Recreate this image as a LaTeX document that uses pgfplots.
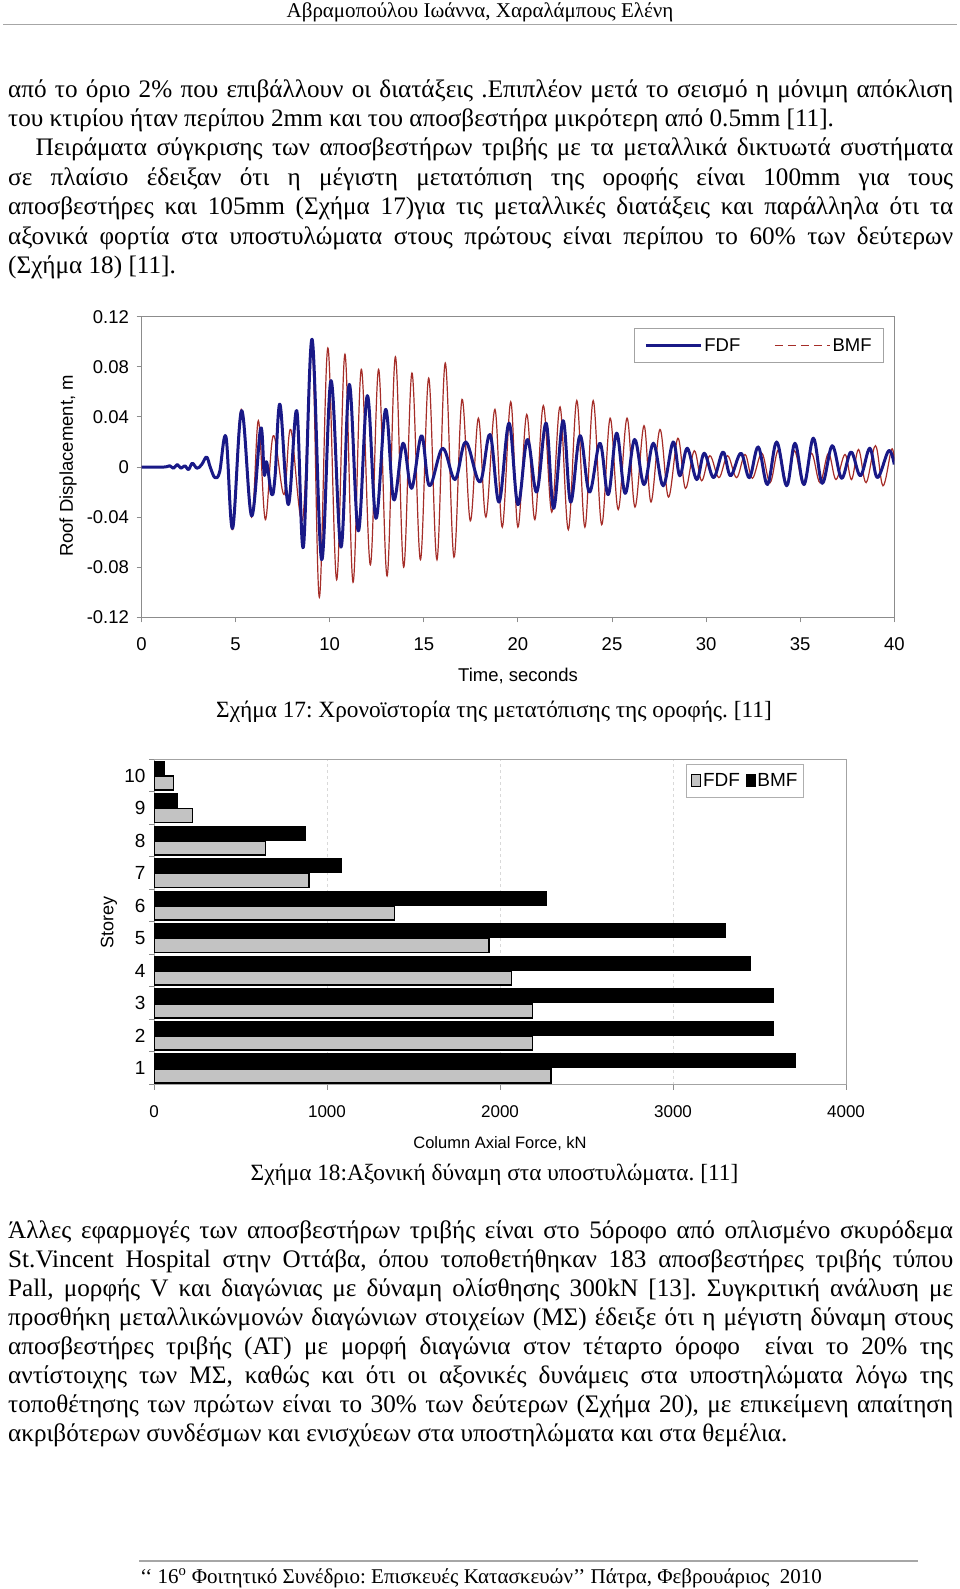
\documentclass[border=0pt]{standalone}
\usepackage{fontspec}
\setmainfont{Liberation Serif}
\newfontfamily\chartfont{Liberation Sans}
\usepackage{pgfplots}
\usepackage{pgfplotstable}
\pgfplotsset{compat=1.18}
\frenchspacing

\definecolor{fdfblue}{RGB}{25,25,135}
\definecolor{bmfred}{RGB}{165,45,40}
\definecolor{framegray}{RGB}{140,140,140}
\definecolor{fdfgray}{RGB}{195,195,195}

\pgfplotstableread{
t v
0 0
1.2 0
1.5 0.001
1.7 -0.001
1.9 0.002
2.1 -0.001
2.3 0.001
2.5 -0.002
2.7 0.003
2.95 -0.001
3.2 0.002
3.46 0.008
3.65 0.0
3.9 -0.0085
4.15 -0.004
4.49 0.024
4.84 -0.049
5.32 0.045
5.85 -0.039
6.33 0.031
6.52 -0.006
6.65 0.004
6.92 -0.022
7.1 -0.007
7.36 0.050
7.8 -0.030
8.25 0.045
8.6 -0.064
9.06 0.102
9.57 -0.074
10.07 0.069
10.6 -0.064
11.04 0.066
11.52 -0.051
12.0 0.057
12.46 -0.041
12.97 0.046
13.4 -0.026
13.9 0.019
14.35 -0.017
14.88 0.025
15.3 -0.015
16.0 0.015
16.66 -0.010
17.23 0.020
17.98 -0.012
18.52 0.026
19.0 -0.028
19.53 0.035
20.0 -0.030
20.5 0.022
21.0 -0.020
21.5 0.035
21.9 -0.033
22.4 0.037
22.8 -0.028
23.3 0.025
23.8 -0.020
24.36 0.019
24.8 -0.022
25.25 0.027
25.7 -0.021
26.2 0.022
26.7 -0.014
27.2 0.019
27.72 -0.015
28.25 0.020
28.6 -0.007
29.0 0.015
29.5 -0.010
29.9 0.011
30.4 -0.0085
30.9 0.012
31.3 -0.007
31.85 0.011
32.3 -0.0085
32.77 0.016
33.26 -0.014
33.75 0.020
34.28 -0.015
34.72 0.019
35.2 -0.014
35.7 0.023
36.17 -0.013
36.7 0.017
37.2 -0.009
37.7 0.012
38.2 -0.007
38.7 0.015
39.1 -0.0085
39.7 0.013
40.0 0.002
}\fdfdata

\pgfplotstableread{
t v
0 0
1.2 0
1.5 0.001
1.7 -0.001
1.9 0.002
2.1 -0.001
2.3 0.001
2.5 -0.002
2.7 0.003
2.95 -0.001
3.2 0.002
3.46 0.008
3.65 0.0
3.9 -0.0085
4.15 -0.004
4.49 0.022
4.84 -0.050
5.30 0.046
5.85 -0.040
6.21 0.037
6.58 -0.042
7.0 0.025
7.57 -0.022
7.93 0.030
8.56 -0.042
9.06 0.098
9.45 -0.104
9.9 0.095
10.37 -0.090
10.81 0.090
11.24 -0.092
11.68 0.078
12.16 -0.078
12.6 0.078
13.05 -0.087
13.49 0.088
13.93 -0.080
14.37 0.075
14.82 -0.074
15.26 0.071
15.7 -0.074
16.14 0.083
16.6 -0.072
17.03 0.054
17.47 -0.043
17.9 0.039
18.3 -0.040
18.78 0.046
19.17 -0.048
19.62 0.052
20.0 -0.048
20.47 0.042
20.9 -0.042
21.35 0.049
21.8 -0.036
22.24 0.048
22.68 -0.050
23.13 0.053
23.56 -0.048
24.0 0.053
24.45 -0.046
24.9 0.039
25.33 -0.034
25.8 0.039
26.22 -0.032
26.7 0.033
27.07 -0.028
27.55 0.030
28.0 -0.024
28.5 0.023
28.9 -0.017
29.37 0.013
29.76 -0.011
30.2 0.009
30.68 -0.0085
31.14 0.009
31.62 -0.0085
32.07 0.010
32.46 -0.009
32.96 0.011
33.4 -0.0125
33.85 0.014
34.3 -0.014
34.7 0.013
35.16 -0.014
35.6 0.011
36.05 -0.0125
36.5 0.011
36.9 -0.010
37.38 0.010
37.73 -0.010
38.1 0.014
38.5 -0.0125
39.0 0.017
39.4 -0.015
39.85 0.014
40.0 0.005
}\bmfdata

\pgfplotstableread{
s fdf bmf
1 2295 3707
2 2187 3580
3 2187 3580
4 2067 3449
5 1938 3301
6 1389 2266
7 896 1085
8 645 875
9 222 135
10 112 58
}\bardata

\newcommand{\bodyfont}{\fontsize{25.2}{29}\selectfont\frenchspacing}
\newcommand{\capfont}{\fontsize{23.3}{27}\selectfont\frenchspacing}
\newcommand{\jline}[4]{\node[anchor=base west,inner sep=0pt] at (#1pt,-#2pt) {\bodyfont\makebox[#3pt][s]{#4}};}
\newcommand{\lline}[3]{\node[anchor=base west,inner sep=0pt] at (#1pt,-#2pt) {\bodyfont #3};}

\begin{document}
\begin{tikzpicture}
\fill[white] (0pt,0pt) rectangle (960pt,-1589pt);
% header
\node[anchor=base,inner sep=0pt] at (480pt,-18pt) {\fontsize{21}{24}\selectfont Αβραμοπούλου Ιωάννα, Χαραλάμπους Ελένη};
\draw[gray!70, line width=1.2pt] (3pt,-24.5pt) -- (957pt,-24.5pt);

% paragraph 1
\jline{8}{97.2}{945}{από το όριο 2\% που επιβάλλουν οι διατάξεις .Επιπλέον μετά το σεισμό η μόνιμη απόκλιση}
\lline{8}{126.6}{του κτιρίου ήταν περίπου 2mm και του αποσβεστήρα μικρότερη από 0.5mm [11].}
\jline{35.5}{156.0}{917.5}{Πειράματα σύγκρισης των αποσβεστήρων τριβής με τα μεταλλικά δικτυωτά συστήματα}
\jline{8}{185.4}{945}{σε πλαίσιο έδειξαν ότι η μέγιστη μετατόπιση της οροφής είναι 100mm για τους}
\jline{8}{214.8}{945}{αποσβεστήρες και 105mm (Σχήμα 17)για τις μεταλλικές διατάξεις και παράλληλα ότι τα}
\jline{8}{244.2}{945}{αξονικά φορτία στα υποστυλώματα στους πρώτους είναι περίπου το 60\% των δεύτερων}
\lline{8}{273.6}{(Σχήμα 18) [11].}

% chart 1
\begin{axis}[
  at={(141.5pt,-617.3pt)}, anchor=south west,
  scale only axis, width=752.8pt, height=300.6pt,
  xmin=0, xmax=40, ymin=-0.12, ymax=0.12,
  axis line style={framegray, line width=1pt},
  xtick={0,5,10,15,20,25,30,35,40},
  xticklabels={0,5,10,15,20,25,30,35,40},
  ytick={-0.12,-0.08,-0.04,0,0.04,0.08,0.12},
  yticklabels={-0.12,-0.08,-0.04,0,0.04,0.08,0.12},
  tick align=outside, tick pos=left,
  major tick length=5pt,
  tick style={framegray, line width=1pt},
  tick label style={font=\chartfont\fontsize{18.5}{20}\selectfont, text=black},
  xticklabel style={yshift=-12pt},
  yticklabel style={xshift=-4pt},
  legend style={at={(0.986,0.962)}, anchor=north east, draw=framegray!80,
    font=\chartfont\fontsize{18.5}{20}\selectfont, inner xsep=10pt, inner ysep=8pt},
  legend columns=2,
  legend cell align=left,
  /tikz/every even column/.append style={column sep=32pt},
  legend image code/.code={\draw[#1] (0pt,0pt) -- (55pt,0pt);},
]
\addlegendimage{fdfblue, line width=3pt}
\addlegendentry{FDF}
\addlegendimage{bmfred, line width=1.2pt, dash pattern=on 8pt off 5pt}
\addlegendentry{BMF}
\addplot[bmfred, line width=1.2pt, smooth, tension=0.6, forget plot] table[x=t,y=v] {\bmfdata};
\addplot[fdfblue, line width=3pt, line join=round, smooth, tension=0.6, forget plot] table[x=t,y=v] {\fdfdata};
\end{axis}
\node[rotate=90, font=\chartfont\fontsize{18.5}{20}\selectfont] at (68pt,-466pt) {Roof Displacement, m};
\node[font=\chartfont\fontsize{18.5}{20}\selectfont] at (518pt,-676pt) {Time, seconds};
\node[anchor=base,inner sep=0pt] at (494pt,-717.6pt) {\capfont Σχήμα 17: Χρονοϊστορία της μετατόπισης της οροφής. [11]};

% chart 2
\begin{axis}[
  at={(154pt,-1084.5pt)}, anchor=south west,
  scale only axis, width=692pt, height=325.2pt,
  xmin=0, xmax=4000, ymin=0.5, ymax=10.5,
  axis line style={framegray!80, line width=1pt},
  xtick={0,1000,2000,3000,4000}, xticklabels={0,1000,2000,3000,4000},
  ytick={0.5,1.5,2.5,3.5,4.5,5.5,6.5,7.5,8.5,9.5,10.5}, yticklabels={},
  extra y ticks={1,2,3,4,5,6,7,8,9,10},
  extra y tick labels={1,2,3,4,5,6,7,8,9,10},
  extra y tick style={major tick length=0pt, yticklabel style={xshift=-5pt, font=\chartfont\fontsize{19}{21}\selectfont}},
  xmajorgrids, major grid style={dashed, gray!30, line width=0.8pt},
  tick align=outside, tick pos=left, major tick length=5pt,
  tick style={framegray, line width=1pt},
  tick label style={font=\chartfont\fontsize{17}{19}\selectfont, text=black},
  xticklabel style={yshift=-13pt},
  legend style={at={(0.939,0.9855)}, anchor=north east, draw=framegray!70,
    font=\chartfont\fontsize{19}{21}\selectfont, inner xsep=4pt, inner ysep=7pt},
  legend columns=2,
  /tikz/every even column/.append style={column sep=4pt},
  legend image code/.code={\draw[#1] (0pt,-6pt) rectangle (9pt,6pt);},
]
\addlegendimage{fill=fdfgray, draw=black, line width=1.5pt}
\addlegendentry{FDF}
\addlegendimage{fill=black, draw=black, line width=0.5pt}
\addlegendentry{BMF}
\addplot[xbar, bar width=14pt, bar shift=-7.5pt, fill=fdfgray, draw=black, line width=1.6pt, forget plot] table[x=fdf,y=s] {\bardata};
\addplot[xbar, bar width=14pt, bar shift=7.5pt, fill=black, draw=black, line width=0.8pt, forget plot] table[x=bmf,y=s] {\bardata};
\end{axis}
\node[rotate=90, font=\chartfont\fontsize{18}{19}\selectfont] at (109pt,-922.5pt) {Storey};
\node[font=\chartfont\fontsize{16.5}{19}\selectfont] at (500pt,-1143.5pt) {Column Axial Force, kN};
\node[anchor=base,inner sep=0pt] at (494.5pt,-1180pt) {\capfont Σχήμα 18:Αξονική δύναμη στα υποστυλώματα. [11]};

% paragraph 2
\jline{8}{1238.7}{945}{Άλλες εφαρμογές των αποσβεστήρων τριβής είναι στο 5όροφο από οπλισμένο σκυρόδεμα}
\jline{8}{1267.7}{945}{St.Vincent Hospital στην Οττάβα, όπου τοποθετήθηκαν 183 αποσβεστήρες τριβής τύπου}
\jline{8}{1296.7}{945}{Pall, μορφής V και διαγώνιας με δύναμη ολίσθησης 300kN [13]. Συγκριτική ανάλυση με}
\jline{8}{1325.7}{945}{προσθήκη μεταλλικώνμονών διαγώνιων στοιχείων (ΜΣ) έδειξε ότι η μέγιστη δύναμη στους}
\jline{8}{1354.7}{945}{αποσβεστήρες τριβής (ΑΤ) με μορφή διαγώνια στον τέταρτο όροφο\ \ είναι το 20\% της}
\jline{8}{1383.7}{945}{αντίστοιχης των ΜΣ, καθώς και ότι οι αξονικές δυνάμεις στα υποστηλώματα λόγω της}
\jline{8}{1412.7}{945}{τοποθέτησης των πρώτων είναι το 30\% των δεύτερων (Σχήμα 20), με επικείμενη απαίτηση}
\lline{8}{1441.7}{ακριβότερων συνδέσμων και ενισχύεων στα υποστηλώματα και στα θεμέλια.}

% footer
\draw[gray!70, line width=1.2pt] (139pt,-1561pt) -- (918pt,-1561pt);
\node[anchor=base,inner sep=0pt] at (481pt,-1583.5pt) {\fontsize{21}{24}\selectfont\frenchspacing ‘‘ 16\textsuperscript{ο} Φοιτητικό Συνέδριο: Επισκευές Κατασκευών’’ Πάτρα, Φεβρουάριος\ \ 2010};
\end{tikzpicture}
\end{document}
